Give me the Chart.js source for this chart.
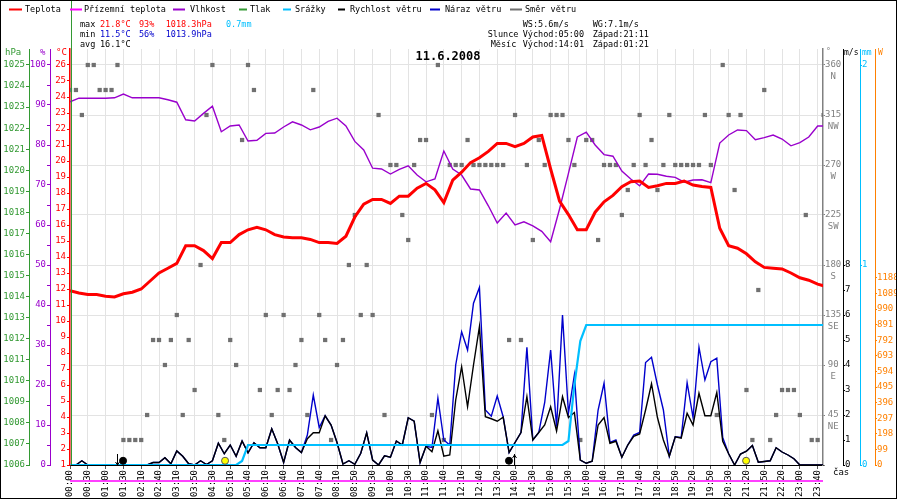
<!DOCTYPE html>
<html lang="cs">
<head>
<meta charset="UTF-8">
<title>Meteo 11.6.2008</title>
<script src="https://cdn.jsdelivr.net/npm/chart.js"></script>
<style>
    html, body { margin: 0; padding: 0; background: #fff; }
</style>
</head>
<body>
<canvas id="meteo" width="900" height="500"></canvas>
<script>
// x axis: one unit = one time label step
const timeLabels = ['00:00','00:30','01:00','01:30','02:10','02:40','03:10','03:50','04:30','05:10',
    '05:40','06:10','06:40','07:10','07:40','08:10','08:50','09:30','10:00','10:30',
    '11:00','11:40','12:10','12:40','13:20','14:00','14:30','15:00','15:30','16:00',
    '16:40','17:10','17:40','18:20','18:50','19:20','19:50','20:30','21:20','21:50',
    '22:20','23:00','23:40'];
const X_MAX = 42.3;

// temperature and humidity, one value every half label step
const temperature = [11.9,11.75,11.65,11.65,11.55,11.5,11.7,11.8,12.0,12.5,
    13.0,13.3,13.6,14.7,14.7,14.4,13.9,14.9,14.9,15.4,
    15.7,15.85,15.7,15.4,15.25,15.2,15.2,15.1,14.9,14.9,
    14.85,15.3,16.5,17.3,17.6,17.6,17.35,17.8,17.8,18.3,
    18.6,18.2,17.4,18.8,19.3,19.9,20.2,20.6,21.1,21.1,
    20.9,21.1,21.5,21.6,19.5,17.5,16.65,15.7,15.7,16.8,
    17.45,17.85,18.4,18.7,18.75,18.35,18.45,18.6,18.6,18.75,
    18.5,18.4,18.35,15.8,14.7,14.55,14.2,13.7,13.35,13.3,
    13.25,13.0,12.7,12.55,12.3,12.15];
const humidity = [90.8,91.7,91.7,91.7,91.7,91.8,92.75,91.8,91.8,91.8,
    91.8,91.3,90.7,86.3,86,87.9,89.7,83.3,84.75,85,
    81,81.2,82.9,83,84.5,85.8,85,83.8,84.5,85.9,
    86.7,84.75,80.9,78.75,74.2,74,72.75,73.9,74.8,72.5,
    70.8,71.5,78.5,74,72.5,69,68.75,64.8,60.5,63,
    60,60.8,59.8,58.4,55.8,64,72.9,82,83.2,80,
    77.6,77.2,73.5,71.5,69.8,72.75,72.7,72.2,71.9,70.7,
    71.25,71.3,70.6,80.5,82.5,83.75,83.6,81.3,81.85,82.5,
    81.5,79.8,80.6,82,84.75,84.75];
const groundTemp = [0, 0];

// wind, rain and direction, one value every third of a label step
const windSpeed = [0,0,0.17,0,0,0,0,0,0,0,
    0,0,0,0,0.1,0.1,0.29,0.05,0.56,0.35,
    0.05,0,0.17,0.02,0.17,0.87,0.45,0.8,0.35,0.96,
    0.49,0.89,0.69,0.69,1.45,0.85,0.1,1.0,0.7,0.5,
    1.05,1.29,1.29,1.97,1.6,0.9,0.04,0.17,0.03,0.47,
    1.29,0.2,0,0.37,0.31,0.96,0.8,1.89,1.75,0.1,
    0.75,0.53,1.37,0.35,0.4,2.6,3.93,2.33,4.0,5.53,
    1.93,1.85,1.75,1.91,0.5,0.9,1.3,2.73,1.0,1.3,
    1.6,2.33,1.36,2.73,1.9,2.1,0.2,0.07,0.15,1.6,
    1.9,0.87,0.95,0.31,0.8,1.15,1.24,2.2,3.25,1.9,
    1.0,0.35,1.13,1.07,2.07,1.6,2.87,1.97,1.97,2.9,
    0.95,0.45,0,0.44,0.55,0.78,0.11,0.14,0.17,0.69,
    0.52,0.4,0.25,0,0,0,0,0];
const windGust = [0,0,0.17,0,0,0,0,0,0,0,
    0,0,0,0,0.1,0.1,0.29,0.05,0.56,0.35,
    0.05,0,0.17,0.02,0.17,0.87,0.45,0.8,0.35,0.96,
    0.49,0.89,0.69,0.69,1.45,0.85,0.1,1.0,0.7,0.5,
    1.2,2.8,1.5,1.97,1.6,0.9,0.04,0.17,0.03,0.47,
    1.29,0.2,0,0.37,0.31,0.96,0.8,1.89,1.75,0.1,
    0.75,0.7,2.67,1.0,0.8,4.0,5.33,4.6,6.47,7.1,
    2.2,1.95,2.76,1.93,0.5,0.9,1.3,4.71,1.0,1.3,
    2.5,4.6,1.53,6.0,2.07,3.6,0.2,0.07,0.15,2.2,
    3.27,0.9,1.0,0.31,0.8,1.2,1.3,4.1,4.31,3.2,
    2.2,0.35,1.13,1.1,3.29,1.9,4.71,3.4,4.13,4.27,
    1.1,0.45,0,0.44,0.55,0.78,0.11,0.14,0.17,0.69,
    0.52,0.4,0.25,0,0,0,0,0];
const rain = [0,0,0,0,0,0,0,0,0,0,
    0,0,0,0,0,0,0,0,0,0,
    0,0,0,0,0,0,0,0,0,0.02,
    0.1,0.1,0.1,0.1,0.1,0.1,0.1,0.1,0.1,0.1,
    0.1,0.1,0.1,0.1,0.1,0.1,0.1,0.1,0.1,0.1,
    0.1,0.1,0.1,0.1,0.1,0.1,0.1,0.1,0.1,0.1,
    0.1,0.1,0.1,0.1,0.1,0.1,0.1,0.1,0.1,0.1,
    0.1,0.1,0.1,0.1,0.1,0.1,0.1,0.1,0.1,0.1,
    0.1,0.1,0.1,0.1,0.12,0.4,0.62,0.7,0.7,0.7,
    0.7,0.7,0.7,0.7,0.7,0.7,0.7,0.7,0.7,0.7,
    0.7,0.7,0.7,0.7,0.7,0.7,0.7,0.7,0.7,0.7,
    0.7,0.7,0.7,0.7,0.7,0.7,0.7,0.7,0.7,0.7,
    0.7,0.7,0.7,0.7,0.7,0.7,0.7,0.7];
const windDir = [337.5,337.5,315,360,360,337.5,337.5,337.5,360,22.5,
    22.5,22.5,22.5,45,112.5,112.5,90,112.5,135,45,
    112.5,67.5,180,315,360,45,22.5,112.5,90,292.5,
    360,337.5,67.5,135,45,67.5,135,67.5,90,112.5,
    45,337.5,135,112.5,22.5,90,112.5,180,225,135,
    180,135,315,45,270,270,225,202.5,270,292.5,
    292.5,45,360,22.5,270,270,270,292.5,270,270,
    270,270,270,270,112.5,315,112.5,270,202.5,292.5,
    270,315,315,315,292.5,270,22.5,292.5,292.5,202.5,
    270,270,270,225,247.5,270,315,270,292.5,247.5,
    270,315,270,270,270,270,270,315,270,45,
    360,315,247.5,315,67.5,22.5,157.5,337.5,22.5,45,
    67.5,67.5,67.5,45,225,22.5,22.5,315];

// sun and moon markers, in label steps
const sunMarks = [8.71, 37.98];
const moonMarks = [2.98, 24.66];
const moonArrows = ['down', 'up'];

// axis tick labels
const tempTicks = [1,2,3,4,5,6,7,8,9,10,11,12,13,14,15,16,17,18,19,20,21,22,23,24,25,26];
const humTicks = [0,5,10,15,20,25,30,35,40,45,50,55,60,65,70,75,80,85,90,95,100];
const pressTicks = [1006,1007,1008,1009,1010,1011,1012,1013,1014,1015,1016,1017,1018,1019,1020,1021,1022,1023,1024,1025];
const dirTicks = [0,45,90,135,180,225,270,315,360];
const compass = ['','NE','E','SE','S','SW','W','NW','N'];
const speedTicks = [0,1,2,3,4,5,6,7,8];
const rainTicks = [0,1,2];
const solarTicks = [0,99,198,297,396,495,594,693,792,891,990,1089,1188];

const RED = '#ff0000', MAGENTA = '#ff00ff', PURPLE = '#9900cc', GREEN = '#339933';
const CYAN = '#00bfff', BLUE = '#0000cc', GREY = '#808080', ORANGE = '#ff8000';
const MONO = '"DejaVu Sans Mono", monospace';
const tickFont = { family: MONO, size: 9 };

const pts = (arr, step) => arr.map((v, i) => ({ x: i * step, y: v }));

function sideAxis(o) {
    return {
        type: 'linear', position: o.pos, weight: o.weight, min: o.min, max: o.max,
        afterBuildTicks: s => { s.ticks = o.ticks.map(v => ({ value: v })); },
        afterFit: s => { s.width = o.width; },
        ticks: { color: o.color, font: tickFont, padding: o.pad, callback: o.label || (v => v) },
        grid: { drawOnChartArea: false, color: o.color, tickLength: o.tick },
        border: { color: o.color, width: o.bw || 1 }
    };
}

// header texts, legend, frame and markers
const decor = {
    id: 'decor',
    afterDraw(chart) {
        const c = chart.ctx;
        const area = chart.chartArea;
        const txt = (s, x, y, color, font) => {
            c.fillStyle = color;
            c.font = font || ('8.5px ' + MONO);
            c.textBaseline = 'middle';
            c.textAlign = 'left';
            c.fillText(s, x, y);
        };
        c.save();

        // pressure trace (no readings) hugging the left edge
        c.strokeStyle = GREEN;
        c.lineWidth = 1;
        c.beginPath();
        c.moveTo(area.left + 1.5, 0);
        c.lineTo(area.left + 1.5, area.bottom);
        c.stroke();

        // legend
        const legend = [
            [RED, 9, 22, 'Teplota', 25], [MAGENTA, 70, 82, 'Přízemní teplota', 84],
            [PURPLE, 173, 185, 'Vlhkost', 190], [GREEN, 239, 247, 'Tlak', 250],
            [CYAN, 283, 291, 'Srážky', 295], ['#000', 338, 345, 'Rychlost větru', 350],
            [BLUE, 430, 440, 'Náraz větru', 445], ['#707070', 510, 522, 'Směr větru', 525]
        ];
        legend.forEach(([col, x0, x1, label, tx]) => {
            c.strokeStyle = col;
            c.lineWidth = 2;
            c.beginPath();
            c.moveTo(x0, 9.5);
            c.lineTo(x1, 9.5);
            c.stroke();
            txt(label, tx, 9.5, '#000');
        });

        // day statistics
        txt('max', 80, 24.5, '#000');
        txt('21.8°C', 100, 24.5, RED);
        txt('93%', 139, 24.5, RED);
        txt('1018.3hPa', 165.7, 24.5, RED);
        txt('0.7mm', 226, 24.5, CYAN);
        txt('min', 80, 34.5, '#000');
        txt('11.5°C', 100, 34.5, BLUE);
        txt('56%', 139, 34.5, BLUE);
        txt('1013.9hPa', 165.7, 34.5, BLUE);
        txt('avg', 80, 44.5, '#000');
        txt('16.1°C', 100, 44.5, '#000');

        txt('WS:5.6m/s', 522.7, 24.5, '#000');
        txt('WG:7.1m/s', 592.7, 24.5, '#000');
        txt('Slunce', 487.7, 34.5, '#000');
        txt('Východ:05:00', 522.7, 34.5, '#000');
        txt('Západ:21:11', 592.7, 34.5, '#000');
        txt('Měsíc', 490.7, 44.5, '#000');
        txt('Východ:14:01', 522.7, 44.5, '#000');
        txt('Západ:01:21', 592.7, 44.5, '#000');

        // date
        c.fillStyle = '#000';
        c.font = 'bold 12px ' + MONO;
        c.textAlign = 'center';
        c.textBaseline = 'middle';
        c.fillText('11.6.2008', 448, 57);

        // axis units
        const unit = '8px ' + MONO;
        txt('hPa', 5, 53, GREEN, '9px ' + MONO);
        txt('%', 40, 53, PURPLE, '9px ' + MONO);
        txt('°C', 56, 53, RED, '9px ' + MONO);
        txt('°', 826, 52, GREY, unit);
        txt('m/s', 844, 53, '#000', unit);
        txt('mm', 862, 53, CYAN, unit);
        txt('W', 878, 53, ORANGE, unit);
        txt('čas', 833, 473, '#000', '9px ' + MONO);

        // moon rise / set arrows
        const xs = chart.scales.x;
        const base = area.bottom;
        c.strokeStyle = '#000';
        c.lineWidth = 1;
        moonMarks.forEach((u, i) => {
            const down = moonArrows[i] === 'down';
            const ax = Math.round(xs.getPixelForValue(u) + (down ? -6 : 5)) + 0.5;
            const tip = down ? base : base - 10;
            const d = down ? -3 : 3;
            c.beginPath();
            c.moveTo(ax, base - 11);
            c.lineTo(ax, base);
            c.moveTo(ax - 2, tip + d);
            c.lineTo(ax, tip);
            c.lineTo(ax + 2, tip + d);
            c.stroke();
        });

        // frame
        c.strokeStyle = '#000';
        c.lineWidth = 1;
        c.strokeRect(0.5, 0.5, 896, 498);
        c.restore();
    }
};

new Chart(document.getElementById('meteo'), {
    type: 'line',
    data: {
        datasets: [
            { label: 'Teplota', data: pts(temperature, 0.5), yAxisID: 'yT', borderColor: RED, borderWidth: 3, order: 1 },
            { label: 'Přízemní teplota', data: pts(groundTemp, X_MAX), yAxisID: 'yT', borderColor: MAGENTA, borderWidth: 1.5, clip: false, order: 1 },
            { label: 'Vlhkost', data: pts(humidity, 0.5), yAxisID: 'yH', borderColor: PURPLE, borderWidth: 1.4, order: 2 },
            { label: 'Srážky', data: pts(rain, 1 / 3), yAxisID: 'yR', borderColor: CYAN, borderWidth: 2.2, order: 3 },
            { label: 'Rychlost větru', data: pts(windSpeed, 1 / 3), yAxisID: 'yW', borderColor: '#000', borderWidth: 1.4, order: 4 },
            { label: 'Náraz větru', data: pts(windGust, 1 / 3), yAxisID: 'yW', borderColor: BLUE, borderWidth: 1.4, order: 5 },
            { label: 'Směr větru', data: pts(windDir, 1 / 3), yAxisID: 'yD', showLine: false,
              pointStyle: 'rect', pointRadius: 3, backgroundColor: '#707070', borderWidth: 0, order: 9 },
            { label: 'Slunce', data: sunMarks.map(u => ({ x: u, y: 0.17 })), yAxisID: 'yW', showLine: false,
              pointRadius: 3.5, backgroundColor: '#ffff00', borderColor: '#555', borderWidth: 1, order: 0 },
            { label: 'Měsíc', data: moonMarks.map(u => ({ x: u, y: 0.17 })), yAxisID: 'yW', showLine: false,
              pointRadius: 3.5, backgroundColor: '#000', borderColor: '#000', borderWidth: 1, order: 0 }
        ]
    },
    options: {
        responsive: false,
        animation: false,
        events: [],
        layout: { padding: { top: 49, left: 0, right: 3, bottom: 0 } },
        elements: { point: { radius: 0 }, line: { tension: 0 } },
        plugins: { legend: { display: false }, tooltip: { enabled: false } },
        scales: {
            x: {
                type: 'linear', position: 'bottom', min: 0, max: X_MAX,
                afterBuildTicks: s => { s.ticks = timeLabels.map((_, i) => ({ value: i })); },
                afterFit: s => { s.height = 35; },
                ticks: { autoSkip: false, minRotation: 90, maxRotation: 90, padding: 1,
                         font: tickFont, color: '#000', callback: (v, i) => timeLabels[i] },
                grid: { color: '#e3e3e3', tickLength: 4, tickColor: '#555' },
                border: { color: '#000' }
            },
            yT: sideAxis({ pos: 'left', weight: 0, min: 1, max: 27, ticks: tempTicks, width: 20,
                           color: RED, pad: 1, tick: 3, bw: 1.5 }),
            yH: sideAxis({ pos: 'left', weight: 1, min: 0, max: 104, ticks: humTicks, width: 21,
                           color: PURPLE, pad: 1, tick: 3, label: v => (v % 10 === 0 ? v : '') }),
            yP: sideAxis({ pos: 'left', weight: 2, min: 1006, max: 1025.76, ticks: pressTicks, width: 29,
                           color: GREEN, pad: 1, tick: 3 }),
            yD: {
                type: 'linear', position: 'right', weight: 0, min: 0, max: 374.4,
                afterBuildTicks: s => { s.ticks = dirTicks.map(v => ({ value: v })); },
                afterFit: s => { s.width = 20; },
                ticks: { color: GREY, font: { family: MONO, size: 9, lineHeight: 1.33 }, padding: 0,
                         crossAlign: 'center', labelOffset: 6,
                         callback: (v, i) => (i === 0 ? '' : [String(v), compass[i]]) },
                grid: { color: '#e3e3e3', tickLength: 2, tickColor: GREY },
                border: { color: GREY, width: 1.5 }
            },
            yW: sideAxis({ pos: 'right', weight: 1, min: 0, max: 16.64, ticks: speedTicks, width: 17,
                           color: '#000', pad: 0, tick: 2 }),
            yR: sideAxis({ pos: 'right', weight: 2, min: 0, max: 2.08, ticks: rainTicks, width: 15,
                           color: CYAN, pad: 0, tick: 2 }),
            yS: sideAxis({ pos: 'right', weight: 3, min: 0, max: 2641.6, ticks: solarTicks, width: 22,
                           color: ORANGE, pad: 0, tick: 2 })
        }
    },
    plugins: [decor]
});
</script>
</body>
</html>
